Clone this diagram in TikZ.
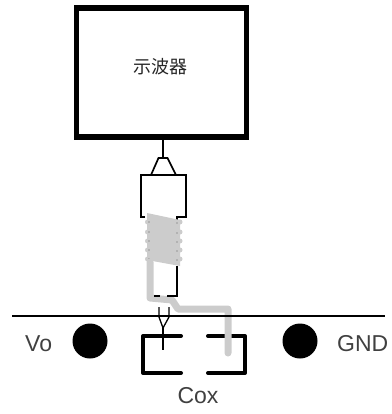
\documentclass[tikz,border=0pt]{standalone}
\usepackage{fontspec}
\setmainfont{Liberation Sans}
\newfontfamily\cjk{Noto Sans CJK SC}
\usetikzlibrary{positioning, calc}

\begin{document}
\begin{tikzpicture}[
    x=1pt, y=-1pt,
    % Styles
    scopebox/.style={ % Oscilloscope body
        draw,
        line width=5.8pt,
        minimum width=170pt,
        minimum height=129pt,
        inner sep=0pt
    },
    wire/.style={
        line width=1.7pt,
        line join=miter
    },
    thinwire/.style={
        line width=1.3pt
    },
    plate/.style={ % Capacitor plates
        line width=4pt,
        line cap=round,
        line join=round
    },
    shield/.style={ % Grey probe shield
        line width=7pt,
        color=black!20,
        line join=round,
        line cap=round
    },
    pad/.style={
        circle,
        fill=black,
        minimum size=35pt,
        inner sep=0pt
    },
    padlabel/.style={
        font=\fontsize{23}{26}\selectfont,
        text=black!75,
        inner sep=0pt
    }
]
    \useasboundingbox (0,0) rectangle (391,414);

    % Capacitor
    \draw[plate] (181,336) -- (143,336) -- (143,373) -- (181,373);
    \draw[plate] (208,336) -- (245,336) -- (245,373) -- (208,373);

    % Oscilloscope
    \node[scopebox] (scope) at (161.5,72.5) {};
    \node[font=\cjk\fontsize{18}{20}\selectfont, text=black!85] (scopename) at (160,67) {示波器};

    % Probe tip
    \coordinate (tipneck) at (163,158);
    \draw[wire] (scope.south -| tipneck) -- (tipneck);
    \draw[wire] (151,175) -- (158.5,158) -- (167.5,158) -- (176,175);

    % Probe head
    \draw[wire] (145,217) -- (141,217) -- (141,175) -- (186,175) -- (186,217) -- (177,217) -- (177,221);

    % Grey shield windings
    \fill[black!20] (147,213) -- (180,220) -- (180,266) -- (147,260) -- cycle;
    \foreach \wy in {222,232,241,250,259} {
        \fill[black!20] (147.5,\wy) circle (2.5pt);
        \fill[black!20] (180,\wy) circle (2.5pt);
        \fill[black!40] (149,\wy) circle (0.9pt);
        \fill[black!40] (177,\wy+1) circle (0.9pt);
    }
    \draw[shield] (150,262) -- (150,298) -- (172,300) -- (178,309) -- (228,309) -- (228,353);

    % Probe lead
    \draw[wire] (177,266) -- (177,296) -- (167,296);
    \draw[wire] (154,296) -- (160,296);

    % Board line
    \coordinate (lineW) at (12,316);
    \coordinate (lineE) at (385,316);
    \draw[thinwire] (lineW) -- (lineE);

    % Probe pin
    \draw[thinwire] (159,307) -- (159,317) -- (163,328) -- (169,317) -- (169,307);
    \draw[thinwire] (163,328) -- (163,350);

    % Pads and labels
    \node[pad] (vo) at (90,341) {};
    \node[pad] (gnd) at (300,341) {};
    \node[padlabel, anchor=base west] (volabel) at (25,351) {Vo};
    \node[padlabel, anchor=base west] (gndlabel) at (337,351) {GND};
    \node[padlabel, anchor=base] (cox) at (198,403) {Cox};
\end{tikzpicture}
\end{document}
